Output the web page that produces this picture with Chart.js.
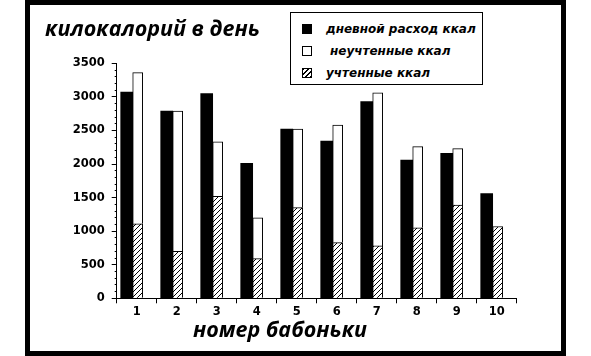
<!DOCTYPE html>
<html>
<head>
<meta charset="utf-8">
<script src="https://cdn.jsdelivr.net/npm/chart.js@4/dist/chart.umd.min.js"></script>
<style>
  html, body { margin: 0; padding: 0; background: #fff; }
  #wrap { position: relative; width: 591px; height: 356px; overflow: hidden; }
  #c { position: absolute; left: 0; top: 0; }
  #frame { position: absolute; left: 25px; top: 0; width: 541px; height: 356px; border: 5px solid #000; box-sizing: border-box; pointer-events: none; }
  .ttl { position: absolute; font-family: 'Open Sans', sans-serif; font-weight: bold; font-style: italic; font-size: 21.5px; line-height: 21px; color: #000; white-space: nowrap; }
  #legend { position: absolute; left: 290px; top: 12px; width: 193px; height: 73px; border: 1px solid #000; box-sizing: border-box; background: #fff; }
  .row { position: absolute; left: 0; height: 14px; font-family: 'DejaVu Sans', sans-serif; font-weight: bold; font-style: italic; font-size: 12px; line-height: 14px; white-space: nowrap; color: #000; }
  .ico { position: absolute; top: 2px; width: 10px; height: 10px; box-sizing: border-box; border: 1px solid #000; }
  .lbl { position: absolute; top: 0; }
</style>
</head>
<body>
<div id="wrap">
  <canvas id="c" width="591" height="356"></canvas>
  <div class="ttl" id="ytitle" style="left:45px; top:17px;">килокалорий в день</div>
  <div class="ttl" id="xtitle" style="left:193px; top:318px;">номер бабоньки</div>
  <div id="legend"></div>
  <div id="frame"></div>
</div>
<script>
// ---- data ----
const categories = ['1', '2', '3', '4', '5', '6', '7', '8', '9', '10'];
const dailyExpenditure = [3070, 2790, 3050, 2010, 2520, 2340, 2930, 2060, 2160, 1560];
const accountedKcal   = [1110, 700, 1520, 590, 1350, 830, 780, 1050, 1390, 1070];
const unaccountedKcal = [2250, 2090, 810, 610, 1170, 1750, 2280, 1210, 840, 0];
const yTickValues = [0, 500, 1000, 1500, 2000, 2500, 3000, 3500];
const seriesNames = ['дневной расход ккал', 'неучтенные ккал', 'учтенные ккал'];

function hatchPattern() {
  const s = 5;
  const cv = document.createElement('canvas');
  cv.width = s; cv.height = s;
  const g = cv.getContext('2d');
  g.fillStyle = '#fff'; g.fillRect(0, 0, s, s);
  g.strokeStyle = '#000'; g.lineWidth = 1;
  g.beginPath();
  g.moveTo(-1, s + 1); g.lineTo(s + 1, -1);
  g.moveTo(-1, 1); g.lineTo(1, -1);
  g.moveTo(s - 1, s + 1); g.lineTo(s + 1, s - 1);
  g.stroke();
  return g.createPattern(cv, 'repeat');
}

const ctx = document.getElementById('c').getContext('2d');
const hatch = hatchPattern();
const toXY = (arr) => arr.map((v, i) => ({ x: Number(categories[i]), y: v }));
const tickFont = { family: 'DejaVu Sans', weight: 'bold', size: 11.5 };

new Chart(ctx, {
  type: 'bar',
  data: {
    datasets: [
      { label: seriesNames[0], data: toXY(dailyExpenditure), backgroundColor: '#000', borderWidth: 0, barThickness: 12, stack: 'a' },
      { label: seriesNames[2], data: toXY(accountedKcal), backgroundColor: hatch, borderColor: '#000', borderWidth: 1, borderSkipped: 'start', barThickness: 10, stack: 'b' },
      { label: seriesNames[1], data: toXY(unaccountedKcal), backgroundColor: '#fff', borderColor: '#000', borderWidth: 1, borderSkipped: 'start', barThickness: 10, stack: 'b' }
    ]
  },
  options: {
    responsive: false,
    animation: false,
    devicePixelRatio: 1,
    layout: { padding: { left: 30, right: 74.3, top: 63.3, bottom: 8 } },
    plugins: { legend: { display: false }, tooltip: { enabled: false }, title: { display: false } },
    scales: {
      x: {
        type: 'linear',
        offset: false,
        min: 0.6, max: 10.6,
        afterBuildTicks: (s) => { s.ticks = categories.map(c => ({ value: Number(c) + 0.1 })); },
        afterFit: (s) => { s.height = 356 - 8 - 298.3; s.paddingLeft = 0; s.paddingRight = 0; },
        ticks: { callback: (v) => String(Math.round(v)), font: tickFont, color: '#000', padding: 2, autoSkip: false, maxRotation: 0 },
        grid: { offset: true, drawOnChartArea: false, drawTicks: true, tickLength: 5, color: '#000', tickColor: '#000', tickWidth: 1 },
        border: { display: true, color: '#000', width: 1 }
      },
      y: {
        stacked: true,
        min: 0, max: 3500,
        afterFit: (s) => { s.width = 116.7 - 30; },
        ticks: {
          stepSize: 100,
          autoSkip: false,
          font: tickFont, color: '#000', padding: 7,
          callback: (v) => yTickValues.includes(v) ? String(v) : ''
        },
        grid: {
          drawOnChartArea: false, drawTicks: true, tickLength: 5, tickColor: '#000', color: '#000', tickWidth: 1,
          tickBorderDash: (c) => (c.tick && yTickValues.includes(c.tick.value)) ? [] : [0, 3, 10, 10]
        },
        border: { display: true, color: '#000', width: 1 }
      }
    }
  }
});

// HTML legend
const legend = document.getElementById('legend');
const legendItems = [
  { name: seriesNames[0], bg: '#000', textLeft: 35 },
  { name: seriesNames[1], bg: '#fff', textLeft: 39 },
  { name: seriesNames[2], bg: 'repeating-linear-gradient(135deg, #000 0 1px, #fff 1px 3.5px)', textLeft: 35 }
];
legendItems.forEach((it, i) => {
  const row = document.createElement('div');
  row.className = 'row';
  row.style.top = (9 + i * 22) + 'px';
  row.style.width = '100%';
  const ico = document.createElement('div');
  ico.className = 'ico';
  ico.style.left = '11px';
  ico.style.background = it.bg;
  const lbl = document.createElement('span');
  lbl.className = 'lbl';
  lbl.style.left = it.textLeft + 'px';
  lbl.textContent = it.name;
  row.appendChild(ico); row.appendChild(lbl);
  legend.appendChild(row);
});
</script>
</body>
</html>
